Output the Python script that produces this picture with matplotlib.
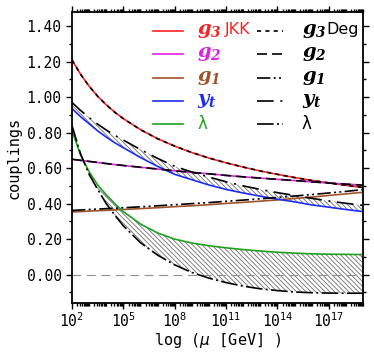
import numpy as np
import matplotlib
matplotlib.use("Agg")
import matplotlib.pyplot as plt
from matplotlib.ticker import FixedLocator, LogLocator, MultipleLocator, NullFormatter

plt.rcParams["font.family"] = ["DejaVu Sans Mono", "DejaVu Sans"]
plt.rcParams["mathtext.fontset"] = "custom"
plt.rcParams["mathtext.bf"] = "DejaVu Serif:italic:bold"
plt.rcParams["mathtext.it"] = "DejaVu Sans:italic"
plt.rcParams["mathtext.rm"] = "DejaVu Sans"
plt.rcParams["hatch.linewidth"] = 0.6

# ── data ──────────────────────────────────────────────────────────────────
log_mu = [2, 2.5, 3, 3.5, 4, 4.5, 5, 6, 7, 8, 9, 10, 11, 12, 13, 14, 15, 16, 17, 18, 19]

# JKK
g3_jkk = [1.210, 1.129, 1.062, 1.005, 0.957, 0.915, 0.879, 0.817, 0.766, 0.724, 0.688,
          0.657, 0.630, 0.606, 0.584, 0.565, 0.547, 0.531, 0.517, 0.503, 0.491]
g2_jkk = [0.650, 0.644, 0.638, 0.632, 0.626, 0.620, 0.615, 0.605, 0.595, 0.585, 0.576,
          0.568, 0.559, 0.551, 0.544, 0.537, 0.530, 0.523, 0.516, 0.510, 0.504]
g1_jkk = [0.353, 0.355, 0.358, 0.360, 0.362, 0.365, 0.367, 0.372, 0.377, 0.383, 0.388,
          0.394, 0.401, 0.407, 0.414, 0.421, 0.429, 0.437, 0.446, 0.455, 0.464]
yt_jkk = [0.935, 0.890, 0.850, 0.810, 0.775, 0.743, 0.715, 0.660, 0.610, 0.565, 0.535,
          0.505, 0.480, 0.460, 0.442, 0.425, 0.410, 0.393, 0.380, 0.367, 0.355]
lam_jkk = [0.810, 0.675, 0.580, 0.505, 0.450, 0.400, 0.355, 0.285, 0.235, 0.200, 0.178,
           0.163, 0.151, 0.141, 0.133, 0.126, 0.121, 0.117, 0.115, 0.114, 0.113]

# Deg
g3_deg = [1.210, 1.129, 1.062, 1.005, 0.957, 0.915, 0.879, 0.817, 0.766, 0.724, 0.688,
          0.657, 0.630, 0.606, 0.584, 0.565, 0.547, 0.531, 0.517, 0.503, 0.491]
g2_deg = [0.650, 0.644, 0.638, 0.632, 0.626, 0.620, 0.615, 0.605, 0.595, 0.585, 0.576,
          0.568, 0.559, 0.551, 0.544, 0.537, 0.530, 0.523, 0.516, 0.510, 0.504]
g1_deg = [0.362, 0.364, 0.367, 0.369, 0.372, 0.374, 0.377, 0.382, 0.388, 0.394, 0.400,
          0.406, 0.413, 0.420, 0.427, 0.435, 0.443, 0.451, 0.460, 0.469, 0.479]
yt_deg = [0.970, 0.925, 0.885, 0.848, 0.815, 0.785, 0.758, 0.705, 0.655, 0.610, 0.578,
          0.550, 0.523, 0.500, 0.480, 0.462, 0.446, 0.430, 0.415, 0.402, 0.390]
lam_deg = [0.840, 0.680, 0.565, 0.480, 0.400, 0.335, 0.275, 0.180, 0.110, 0.055, 0.012,
           -0.020, -0.045, -0.065, -0.080, -0.090, -0.098, -0.102, -0.104, -0.105, -0.105]

x_ticks = [2, 5, 8, 11, 14, 17]
y_ticks = [0.0, 0.2, 0.4, 0.6, 0.8, 1.0, 1.2, 1.4]

colors = {"g3": "#ff2020", "g2": "#e020e0", "g1": "#a0522d", "yt": "#1c2cf0", "lam": "#20a020"}
deg_styles = {
    "g3": (0, (2.5, 2.5)),
    "g2": (0, (6, 3)),
    "g1": (0, (8, 2, 1.2, 2, 1.2, 2)),
    "yt": (0, (10, 4, 1.2, 4)),
    "lam": (0, (10, 2, 1.2, 2)),
}

mu = 10.0 ** np.array(log_mu)

# ── figure ────────────────────────────────────────────────────────────────
fig = plt.figure(figsize=(3.74, 3.55), dpi=100)
ax = fig.add_axes([72 / 374, 52 / 355, 291 / 374, 291 / 355])

# hatched bands between JKK and Deg
ax.fill_between(mu, lam_jkk, lam_deg, facecolor="none", edgecolor="#707070",
                hatch="\\\\\\\\\\\\\\", linewidth=0)
ax.fill_between(mu, yt_jkk, yt_deg, facecolor="none", edgecolor="#707070",
                hatch="\\\\\\\\\\\\\\", linewidth=0)

ax.axhline(0.0, color="#909090", lw=0.8, ls=(0, (8, 5)))

jkk = {"g3": g3_jkk, "g2": g2_jkk, "g1": g1_jkk, "yt": yt_jkk, "lam": lam_jkk}
deg = {"g3": g3_deg, "g2": g2_deg, "g1": g1_deg, "yt": yt_deg, "lam": lam_deg}
for k, v in jkk.items():
    ax.plot(mu, v, color=colors[k], lw=1.2)
for k, v in deg.items():
    ax.plot(mu, v, color="black", lw=1.2, ls=deg_styles[k])

ax.set_xscale("log")
ax.set_xlim(1e2, 1e19)
ax.set_ylim(-0.16, 1.48)

ax.xaxis.set_major_locator(FixedLocator(10.0 ** np.array(x_ticks)))
ax.xaxis.set_minor_locator(LogLocator(base=10, subs=np.arange(1, 10), numticks=40))
ax.xaxis.set_minor_formatter(NullFormatter())
ax.set_xticklabels([f"$\\mathdefault{{10^{{{e}}}}}$" for e in x_ticks])
ax.yaxis.set_major_locator(FixedLocator(y_ticks))
ax.yaxis.set_minor_locator(MultipleLocator(0.1))
ax.set_yticklabels([f"{v:.2f}" for v in y_ticks])

ax.tick_params(which="both", direction="out", top=True, right=True, width=1.0,
               labelsize=10.5)
ax.tick_params(which="major", length=4)
ax.tick_params(which="minor", length=2.5)
ax.tick_params(axis="x", pad=2)
for s in ax.spines.values():
    s.set_linewidth(1.3)

ax.set_xlabel("log ($\\mu$ [GeV] )", fontsize=11, labelpad=1)
ax.set_ylabel("couplings", fontsize=11, labelpad=4)

# ── legend built by hand, two columns ─────────────────────────────────────
rows = [0.935, 0.856, 0.774, 0.695, 0.615]
keys = ["g3", "g2", "g1", "yt", "lam"]
names = ["$\\mathbf{g_3}$", "$\\mathbf{g_2}$", "$\\mathbf{g_1}$", "$\\mathbf{y_t}$", "λ"]
for y, k, n in zip(rows, keys, names):
    ax.plot([0.277, 0.380], [y, y], color=colors[k], lw=1.2, transform=ax.transAxes)
    ax.plot([0.636, 0.725], [y, y], color="black", lw=1.2, ls=deg_styles[k],
            transform=ax.transAxes)
    fs = 12 if k == "lam" else 14
    fam = "DejaVu Sans"
    ax.text(0.43, y, n, color=colors[k], fontsize=fs, family=fam,
            va="center", ha="left", transform=ax.transAxes)
    ax.text(0.79, y, n, color="black", fontsize=fs, family=fam,
            va="center", ha="left", transform=ax.transAxes)
ax.text(0.526, rows[0] + 0.005, "JKK", color=colors["g3"], fontsize=11.5,
        family="DejaVu Sans", va="center", ha="left", transform=ax.transAxes)
ax.text(0.875, rows[0] + 0.005, "Deg", color="black", fontsize=11.5,
        family="DejaVu Sans", va="center", ha="left", transform=ax.transAxes)

fig.savefig("out.png", dpi=100)
